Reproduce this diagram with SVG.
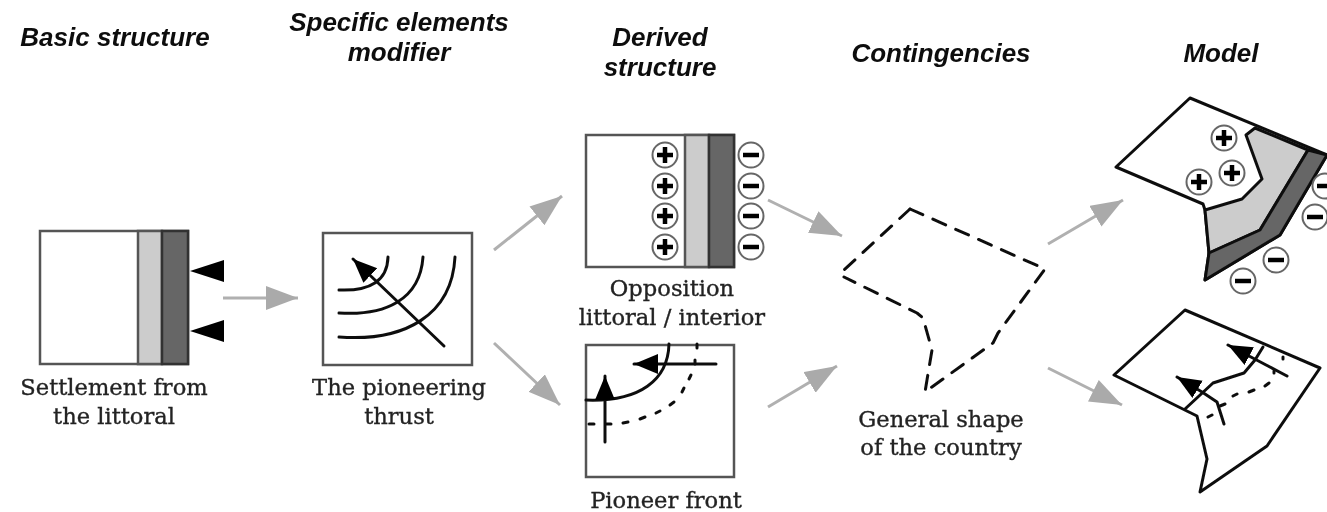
<svg xmlns="http://www.w3.org/2000/svg" width="1327" height="512" viewBox="0 0 1327 512">
<defs>
<style>
.h{font-family:"Liberation Sans",Arial,sans-serif;font-size:26px;font-weight:bold;font-style:italic;fill:#111;text-anchor:middle}
.l{font-family:"DejaVu Serif","Liberation Serif",serif;font-size:22.6px;fill:#222;stroke:#222;stroke-width:0.35;text-anchor:middle}
.box{fill:#fff;stroke:#555;stroke-width:2.5}
.lg{fill:#ccc;stroke:#555;stroke-width:2.5}
.dg{fill:#666;stroke:#333;stroke-width:2.5}
.k{fill:none;stroke:#111;stroke-width:3;stroke-linecap:round;stroke-linejoin:round}
.g{fill:none;stroke:#b0b0b0;stroke-width:3;marker-end:url(#ga)}
.ar{marker-end:url(#ka)}
.ring{fill:#fff;stroke:#666;stroke-width:2}
.sign{stroke:#000;stroke-width:4.5;fill:none}
.tri{fill:#000}
</style>
<filter id="soft" x="0" y="0" width="100%" height="100%"><feGaussianBlur stdDeviation="0.55"/></filter>
<marker id="ga" markerUnits="userSpaceOnUse" markerWidth="34" markerHeight="26" refX="32" refY="12" orient="auto"><path d="M0 0L32 12L0 24Z" fill="#aaa"/></marker>
<marker id="ka" markerUnits="userSpaceOnUse" markerWidth="26" markerHeight="22" refX="24" refY="10" orient="auto"><path d="M0 0L24 10L0 20Z" fill="#000"/></marker>
<g id="p"><circle class="ring" r="12.5"/><path class="sign" d="M-8 0H8M0-8V8"/></g>
<g id="m"><circle class="ring" r="12.5"/><path class="sign" d="M-8 0H8"/></g>
</defs>
<rect width="1327" height="512" fill="#fff"/>
<g filter="url(#soft)">
<g id="headings">
<text class="h" x="115" y="46">Basic structure</text>
<text class="h" x="399" y="31">Specific elements</text>
<text class="h" x="399" y="61">modifier</text>
<text class="h" x="660" y="46">Derived</text>
<text class="h" x="660" y="76">structure</text>
<text class="h" x="941" y="62">Contingencies</text>
<text class="h" x="1221" y="62">Model</text>
</g>
<g id="connectors">
<path class="g" d="M223 298H298"/>
<path class="g" d="M494 250L562 196"/>
<path class="g" d="M494 343L560 405"/>
<path class="g" d="M768 200L842 236"/>
<path class="g" d="M768 407L837 366"/>
<path class="g" d="M1048 244L1123 200"/>
<path class="g" d="M1048 368L1122 405"/>
</g>
<g id="node-basic">
<rect class="box" x="40" y="231" width="148" height="133"/>
<rect class="lg" x="138" y="231" width="24" height="133"/>
<rect class="dg" x="162" y="231" width="26" height="133"/>
<path class="tri" d="M190 271L224 260V282Z"/>
<path class="tri" d="M190 331L224 320V342Z"/>
<text class="l" x="114" y="395">Settlement from</text>
<text class="l" x="114" y="424">the littoral</text>
</g>
<g id="node-thrust">
<rect class="box" x="323" y="233" width="149" height="132"/>
<path class="k" d="M339 290Q387 292 388 257"/>
<path class="k" d="M339 313C385 316 420 300 423 257"/>
<path class="k" d="M339 337C405 342 452 315 455 257"/>
<path class="k ar" d="M444 346L353 259"/>
<text class="l" x="399" y="395">The pioneering</text>
<text class="l" x="399" y="424">thrust</text>
</g>
<g id="node-opposition">
<rect class="box" x="586" y="135" width="148" height="132"/>
<rect class="lg" x="685" y="135" width="24" height="132"/>
<rect class="dg" x="709" y="135" width="25" height="132"/>
<use href="#p" x="665" y="155"/><use href="#p" x="665" y="186"/><use href="#p" x="665" y="216"/><use href="#p" x="665" y="247"/>
<use href="#m" x="751" y="155"/><use href="#m" x="751" y="186"/><use href="#m" x="751" y="216"/><use href="#m" x="751" y="247"/>
<text class="l" x="672" y="296">Opposition</text>
<text class="l" x="672" y="325">littoral / interior</text>
</g>
<g id="node-front">
<rect class="box" x="586" y="345" width="148" height="132"/>
<path class="k" d="M586 400C640 402 668 380 669 344"/>
<path class="k" d="M697 344v4M695 360v4M691 375l-2 4M684 388l-2 4M674 402l-4 3M660 411l-4 2M645 417l-5 2M628 422l-5 1M611 424h-5M594 424h-5"/>
<path class="k ar" d="M716 364H634"/>
<path class="k ar" d="M605 442V376"/>
<text class="l" x="666" y="508">Pioneer front</text>
</g>
<g id="node-shape">
<path class="k" stroke-dasharray="14 11" stroke-linecap="butt" d="M910 209L1045 269L998 333L993 343L925 392L932 350L923 318L917 313L844 277"/>
<path class="k" stroke-dasharray="14 11" stroke-linecap="butt" d="M910 209L844 270"/>
<text class="l" x="941" y="427">General shape</text>
<text class="l" x="941" y="455">of the country</text>
</g>
<g id="node-model-top">
<path class="k" style="fill:#fff" d="M1190 98L1327 155L1280 235L1205 280L1209 253L1205 210L1203 204L1116 167Z"/>
<path class="k" style="fill:#ccc" d="M1255 128L1246 135L1262 179L1242 199L1205 210L1209 253L1260 230L1308 150Z"/>
<path class="k" style="fill:#666" d="M1308 150L1327 155L1280 235L1205 280L1209 253L1260 230Z"/>
<use href="#p" x="1224" y="138"/><use href="#p" x="1232" y="173"/><use href="#p" x="1199" y="182"/>
<use href="#m" x="1243" y="281"/><use href="#m" x="1276" y="260"/><use href="#m" x="1315" y="217"/><use href="#m" x="1325" y="186"/>
</g>
<g id="node-model-bottom">
<path class="k" d="M1185 310L1320 368L1267 446L1200 492L1207 459L1197 416L1114 375Z"/>
<path class="k" d="M1263 347L1255 360L1244 373L1213 383L1185 409"/>
<path class="k" d="M1283 357v2M1274 371v2M1269 383l-4 3M1254 390l-5 2M1237 394l-4 2M1225 404l-5 2M1212 415l-4 2"/>
<path class="k ar" d="M1287 376L1228 345"/>
<path class="k ar" d="M1224 424L1217 402L1202 392L1177 377"/>
</g>
</g>
</svg>
